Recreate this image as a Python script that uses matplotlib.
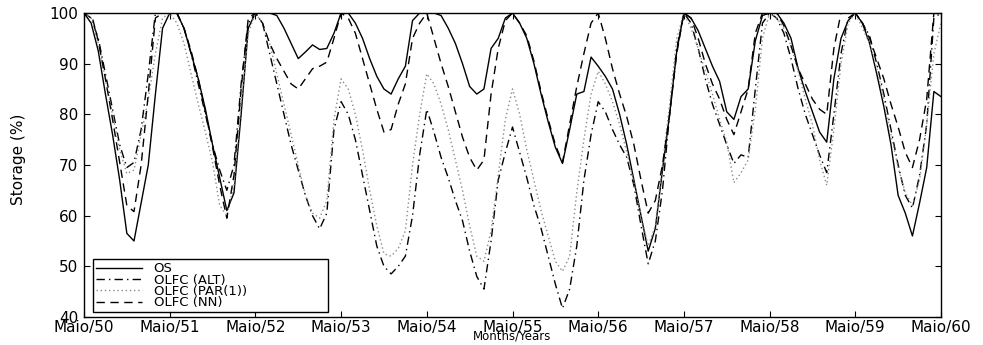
import matplotlib
matplotlib.use("Agg")
import matplotlib.pyplot as plt
import numpy as np

# ---- data (monthly storage %, May/50 .. May/60) ----
tick_labels = ["Maio/50", "Maio/51", "Maio/52", "Maio/53", "Maio/54", "Maio/55",
               "Maio/56", "Maio/57", "Maio/58", "Maio/59", "Maio/60"]
y_ticks = [40, 50, 60, 70, 80, 90, 100]

os_vals = [
    100, 98, 92.5, 84, 76, 67, 56.5, 55, 62.5, 70, 84, 97,
    100, 100, 97, 92, 87, 81, 74, 67.5, 61, 64.5, 80, 97,
    100, 100, 100, 99.5, 97, 94, 91, 92.3, 93.7, 92.8, 93, 96,
    100, 100, 98, 95, 91, 87.5, 85, 84, 87, 89.5, 98.5, 100,
    100, 100, 99.5, 97, 94, 90, 85.5, 84, 85, 93, 95, 99,
    100, 98, 95, 90, 84, 78.5, 73.5, 70.3, 77, 84, 84.5, 91.3,
    89.5, 87.5, 85, 80, 74, 67, 60, 53, 57.5, 69, 80, 92.5,
    100, 99, 96.5, 93, 89.5, 86.5, 80.5, 79, 83.5, 85, 94.5, 99.5,
    100, 100, 98, 95, 89, 84.5, 80.5, 76.5, 74.5, 87, 95, 98.5,
    100, 98, 94, 88, 81.5, 74, 64, 60.5, 56, 62.5, 69.5, 84.5,
    83.5]

alt_vals = [
    100, 99, 95, 88, 81, 74, 69.5, 70.5, 77, 88, 100, 100,
    100, 100, 97, 92, 86, 80, 74, 69, 65, 70, 86, 98,
    100, 98, 92, 86, 80, 74, 69, 64, 60, 57.4, 60.5, 77,
    82.5, 80, 75, 68, 61, 54, 50, 48.5, 50, 52, 60, 72,
    81, 76.5, 71.5, 67.5, 63, 59, 53, 48, 45.5, 55, 67, 72.5,
    77.5, 72.5, 67.5, 62, 57.5, 52, 46.5, 41.7, 45.5, 54, 67, 76,
    82.5, 80.5, 77, 74, 71.5, 66, 58, 50.5, 55, 65, 80, 93,
    100, 98, 93, 87, 82, 78, 74, 70.3, 72, 71.5, 85, 98,
    100, 99, 96, 91, 85, 80, 76, 72, 68.5, 80, 92, 99,
    100, 98, 95.5, 90, 84, 77, 70, 64, 61.5, 68, 78, 99,
    100]

par_vals = [
    100, 99, 94, 87, 80, 73, 68.3, 69, 76, 83, 92, 99,
    100, 98, 94, 88, 82, 76.5, 70.5, 62, 60, 66, 82, 96,
    100, 98, 94, 88, 82, 76, 70, 64, 60.5, 59.5, 63, 79,
    87, 85, 80, 73, 65, 58, 52.5, 52, 53.5, 57, 70, 80,
    88, 86, 82, 77, 71, 65, 58, 52, 51, 57, 68, 79,
    85, 80, 73, 67, 61, 56, 51, 49, 52, 64.6, 75, 84,
    88.5, 86, 82.5, 78, 72.5, 66.5, 60, 54, 58, 70, 82, 95,
    100, 97, 93, 88.5, 84, 79, 74.5, 66.5, 68.5, 71, 81, 95,
    100, 99, 97, 93.5, 88.5, 83, 78, 71, 66, 77, 90, 98,
    100, 97, 94, 89, 83, 76, 69.5, 64.5, 62, 67, 78, 92,
    98]

nn_vals = [
    100, 100, 94.5, 87, 79, 70.5, 62, 60.8, 70, 84, 99, 100,
    100, 100, 97, 92.5, 87, 80.5, 73.5, 66, 59.5, 68, 85, 99,
    100, 98, 94, 91, 88.5, 86, 85, 87, 89, 89.5, 90.3, 95,
    100, 99, 96, 91, 86, 81, 76.5, 77, 82, 86, 95, 98,
    100, 95, 90, 85.5, 80.5, 75.5, 71.5, 69, 71, 84, 93, 98.5,
    100, 98, 95.5, 90.5, 84.5, 79, 74, 70.5, 78, 85.5, 92, 98,
    100, 95, 89, 84, 79.5, 74, 67, 60.5, 63, 70, 80, 92,
    100, 99, 95, 90, 86, 83, 79, 76, 80.5, 85, 96, 100,
    100, 100, 97.5, 93.5, 89, 86, 83, 81, 80, 93, 100, 100,
    100, 98, 95, 91, 87, 82, 77.5, 72.5, 69.5, 75, 83, 100,
    100]

series_labels = ["OS", "OLFC (ALT)", "OLFC (PAR(1))", "OLFC (NN)"]

months = np.arange(len(os_vals))
tick_pos = np.arange(0, len(os_vals), 12)

plt.rcParams['font.family'] = ['DejaVu Sans']

fig = plt.figure(figsize=(9.83, 3.45), dpi=100)
ax = fig.add_axes([84 / 983, 28 / 345, 857 / 983, 304 / 345])

ax.plot(months, os_vals, color="black", lw=1.0, ls="-", label=series_labels[0])
ax.plot(months, alt_vals, color="black", lw=1.0, ls=(0, (6, 3, 1, 3)), label=series_labels[1])
ax.plot(months, par_vals, color="#8a8a8a", lw=1.0, ls=(0, (1, 2)), label=series_labels[2])
ax.plot(months, nn_vals, color="black", lw=1.0, ls=(0, (6, 4)), label=series_labels[3])

ax.set_xlim(0, 120)
ax.set_ylim(40, 100)
ax.set_xticks(tick_pos)
ax.set_xticklabels(tick_labels)
ax.set_yticks(y_ticks)
ax.tick_params(direction="in", length=4, width=0.8, top=True, right=True,
               labelsize=11, colors="black")
ax.tick_params(axis="x", pad=2)
ax.tick_params(axis="y", pad=4)
for s in ax.spines.values():
    s.set_linewidth(1.0)
    s.set_color("black")

ax.set_ylabel("Storage (%)", fontsize=11)
ax.yaxis.set_label_coords(-0.068, 0.52)
ax.set_xlabel("Months/Years", fontsize=8.5)
ax.xaxis.set_label_coords(0.5, -0.0855)
ax.xaxis.label.set_verticalalignment("bottom")

leg = ax.legend(loc="lower left", bbox_to_anchor=(0.0105, 0.0164, 0.274, 0.161),
                mode="expand", borderaxespad=0, fontsize=9.5, labelspacing=-0.12,
                handlelength=3.5, handletextpad=0.9, borderpad=0.2,
                fancybox=False, framealpha=1, edgecolor="black")
leg.get_frame().set_linewidth(1.0)

fig.savefig("out.png", dpi=100)
